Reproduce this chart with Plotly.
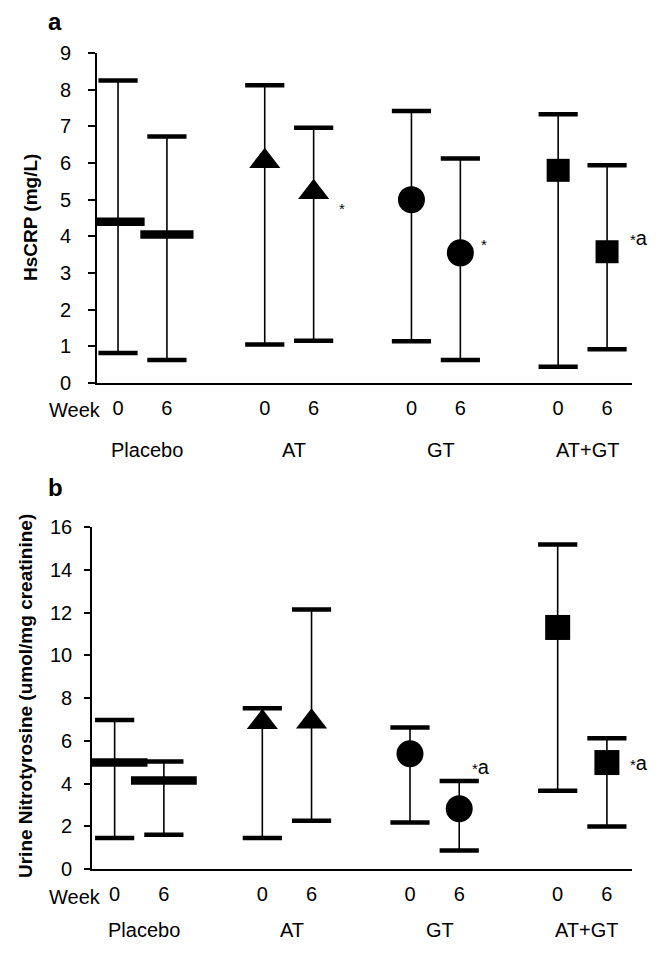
import plotly.graph_objects as go

# ---------------- data ----------------
groups = ["Placebo", "AT", "GT", "AT+GT"]
weeks = ["0", "6"]
group_symbols = ["line-ew", "triangle-up", "circle", "square"]

# panel a: HsCRP (mg/L)
hscrp_mean = [4.40, 4.05, 6.05, 5.20, 5.00, 3.55, 5.80, 3.58]
hscrp_upper = [8.25, 6.72, 8.12, 6.96, 7.42, 6.12, 7.33, 5.94]
hscrp_lower = [0.82, 0.63, 1.05, 1.15, 1.14, 0.63, 0.44, 0.92]
hscrp_sig = ["", "", "", "*", "", "*", "", "*a"]

# panel b: Urine nitrotyrosine (umol/mg creatinine)
ntyr_mean = [4.98, 4.14, 6.86, 6.89, 5.39, 2.82, 11.30, 4.98]
ntyr_upper = [6.97, 5.03, 7.52, 12.14, 6.62, 4.12, 15.18, 6.12]
ntyr_lower = [1.45, 1.60, 1.45, 2.26, 2.18, 0.86, 3.66, 1.99]
ntyr_sig = ["", "", "", "", "", "*a", "", "*a"]

# ---------------- layout helpers ----------------
PAGE_W, PAGE_H = 660, 960
OFF = 8                      # default page body margin
W, H = PAGE_W - OFF, PAGE_H - OFF
FONT = "Liberation Sans, Arial, sans-serif"
FS = 20


def px(x):   # page pixel x -> paper fraction
    return (x - OFF) / W


def py(y):   # page pixel y (from top) -> paper fraction
    return (PAGE_H - y) / H


def sig_html(s):
    # small asterisk followed by the letter(s), as in the original figure
    return s.replace("*", "<span style='font-size:15px'>*</span>")


# positions: group g, week w -> g*3 + w
xpos = [g * 3 + w for g in range(len(groups)) for w in range(len(weeks))]
grp_of = [g for g in range(len(groups)) for w in range(len(weeks))]
week_text = [weeks[w] for g in range(len(groups)) for w in range(len(weeks))]

fig = go.Figure()


def add_panel(mean, upper, lower, xa, ya, mean_bar_size, sizes):
    err_p = [u - m for u, m in zip(upper, mean)]
    err_m = [m - l for m, l in zip(mean, lower)]
    # stems
    fig.add_trace(go.Scatter(
        x=xpos, y=mean, mode="markers", xaxis=xa, yaxis=ya,
        marker=dict(size=1, color="rgba(0,0,0,0)"),
        error_y=dict(type="data", array=err_p, arrayminus=err_m,
                     thickness=1.6, width=0, color="black"),
        showlegend=False, hoverinfo="skip"))
    # caps
    for vals in (upper, lower):
        fig.add_trace(go.Scatter(
            x=xpos, y=vals, mode="markers", xaxis=xa, yaxis=ya,
            marker=dict(symbol="line-ew", size=28,
                        line=dict(width=4.5, color="black")),
            showlegend=False, hoverinfo="skip"))
    # means
    for g, sym in enumerate(group_symbols):
        idx = [i for i in range(len(xpos)) if grp_of[i] == g]
        xs = [xpos[i] for i in idx]
        ys = [mean[i] for i in idx]
        if sym == "line-ew":
            mk = dict(symbol=sym, size=mean_bar_size,
                      line=dict(width=8.5, color="black"))
        else:
            mk = dict(symbol=sym, size=sizes[g], color="black",
                      line=dict(width=0))
        fig.add_trace(go.Scatter(x=xs, y=ys, mode="markers", xaxis=xa,
                                 yaxis=ya, marker=mk, showlegend=False,
                                 hoverinfo="skip"))


add_panel(hscrp_mean, hscrp_upper, hscrp_lower, "x", "y", 38,
          [0, 27, 27, 23])
add_panel(ntyr_mean, ntyr_upper, ntyr_lower, "x2", "y2", 47,
          [0, 27, 27, 25])

axis_common = dict(showline=True, linecolor="black", linewidth=1.6,
                   showgrid=False, zeroline=False, mirror=False)

fig.update_layout(
    width=W, height=H,
    margin=dict(l=0, r=0, t=0, b=0, autoexpand=False),
    paper_bgcolor="white", plot_bgcolor="white",
    font=dict(family=FONT, size=FS, color="black"),
    xaxis=dict(domain=[px(97), px(632)], range=[-0.43, 10.51],
               anchor="y", tickvals=xpos, ticktext=week_text,
               ticks="", ticklabelstandoff=6, tickfont=dict(size=FS),
               **axis_common),
    yaxis=dict(domain=[py(383), py(53)], range=[0, 9],
               anchor="x", dtick=1, ticks="outside", ticklen=7,
               tickwidth=1.6, tickcolor="black", ticklabelstandoff=13,
               tickfont=dict(size=FS), **axis_common),
    xaxis2=dict(domain=[px(92), px(632)], range=[-0.46, 10.51],
                anchor="y2", tickvals=xpos, ticktext=week_text,
                ticks="", ticklabelstandoff=6, tickfont=dict(size=FS),
                **axis_common),
    yaxis2=dict(domain=[py(869), py(527)], range=[0, 16],
                anchor="x2", dtick=2, ticks="outside", ticklen=6,
                tickwidth=1.6, tickcolor="black", ticklabelstandoff=8,
                tickfont=dict(size=FS), **axis_common),
)

ann = []


def paper_text(text, x, y, size, angle=0):
    ann.append(dict(text=text, x=px(x), y=py(y), xref="paper",
                    yref="paper", xanchor="center", yanchor="middle",
                    showarrow=False, textangle=angle,
                    font=dict(size=size)))


# panel letters
paper_text("<b>a</b>", 55, 22, 24)
paper_text("<b>b</b>", 55, 487, 24)
# axis titles
paper_text("<b>HsCRP (mg/L)</b>", 30, 218, 19, -90)
paper_text("<b>Urine Nitrotyrosine (umol/mg creatinine)</b>", 25, 696, 19, -90)
# Week labels
paper_text("Week", 75, 410, FS)
paper_text("Week", 75, 897, FS)
# group labels
for g, name in enumerate(groups):
    ann.append(dict(text=name, x=g * 3 + 0.6, y=py(450), xref="x",
                    yref="paper", xanchor="center", yanchor="middle",
                    showarrow=False, font=dict(size=FS)))
    ann.append(dict(text=name, x=g * 3 + 0.6, y=py(930), xref="x2",
                    yref="paper", xanchor="center", yanchor="middle",
                    showarrow=False, font=dict(size=FS)))

# significance marks (pixel offsets from the mean marker)
top_sig_shift = {3: (28, -16), 5: (24, 8), 7: (32, 14)}
bot_sig_shift = {5: (22, 42), 7: (32, 0)}
for i, s in enumerate(hscrp_sig):
    if s:
        dx, dy = top_sig_shift[i]
        ann.append(dict(text=sig_html(s), x=xpos[i], y=hscrp_mean[i],
                        xref="x", yref="y", xshift=dx, yshift=dy,
                        showarrow=False, xanchor="center", yanchor="middle",
                        font=dict(size=FS)))
for i, s in enumerate(ntyr_sig):
    if s:
        dx, dy = bot_sig_shift[i]
        ann.append(dict(text=sig_html(s), x=xpos[i], y=ntyr_mean[i],
                        xref="x2", yref="y2", xshift=dx, yshift=dy,
                        showarrow=False, xanchor="center", yanchor="middle",
                        font=dict(size=FS)))

fig.update_layout(annotations=ann)
fig.write_html("out.html")
